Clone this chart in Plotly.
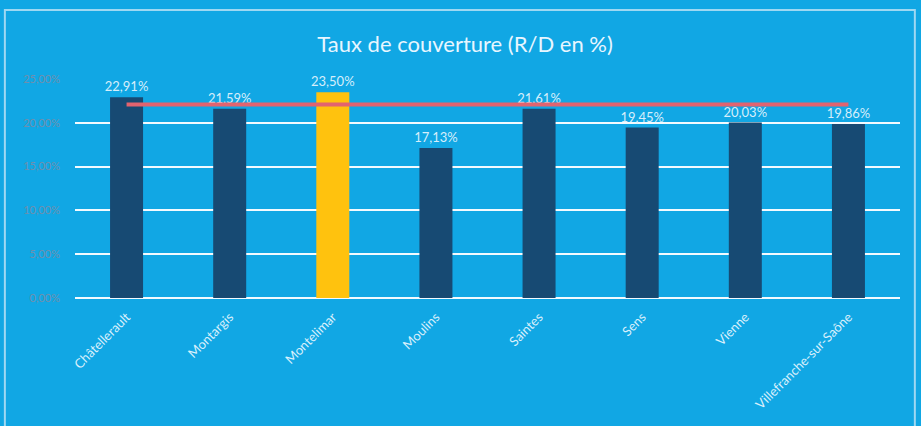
import plotly.graph_objects as go

villes = ["Châtellerault", "Montargis", "Montelimar", "Moulins", "Saintes", "Sens", "Vienne", "Villefranche-sur-Saône"]
taux = [22.91, 21.59, 23.50, 17.13, 21.61, 19.45, 20.03, 19.86]
reference = [22.1] * len(villes)
ville_mise_en_avant = "Montelimar"
y_ticks = [0, 5, 10, 15, 20, 25]
y_tick_labels = ["0,00%", "5,00%", "10,00%", "15,00%", "20,00%", "25,00%"]

bleu_fond = "#11A7E4"
bar_colors = ["#FFC20E" if v == ville_mise_en_avant else "#174A73" for v in villes]
labels = [f"{v:.2f}".replace(".", ",") + "%" for v in taux]

fig = go.Figure()
fig.add_trace(go.Bar(
    x=villes, y=taux, marker=dict(color=bar_colors, line=dict(width=0)),
    text=labels, textposition="outside", cliponaxis=False, constraintext="none",
    textfont=dict(family="Lato, Open Sans, sans-serif", size=13, color="#D6EEFB"),
    hoverinfo="skip",
))
fig.add_trace(go.Scatter(
    x=villes, y=reference, mode="lines",
    line=dict(color="#E2636F", width=4), hoverinfo="skip",
))

fig.update_layout(
    width=921, height=426,
    paper_bgcolor=bleu_fond, plot_bgcolor=bleu_fond,
    margin=dict(l=75, r=21, t=79, b=128),
    showlegend=False, bargap=0.68,
    title=dict(text="Taux de couverture (R/D en %)", x=0.505, xanchor="center", y=0.895, yanchor="middle",
               font=dict(family="Lato, Open Sans, sans-serif", size=22, color="#E8F6FF")),
    font=dict(family="Lato, Open Sans, sans-serif"),
    xaxis=dict(tickangle=-45, tickfont=dict(size=13, color="#D9F0FC"), showgrid=False,
               showline=False, ticks="", zeroline=False, automargin=False, ticklabelstandoff=8),
    yaxis=dict(range=[0, 25], tickvals=y_ticks, ticktext=y_tick_labels,
               tickfont=dict(size=11, color="#6E8FAE"), gridcolor="#F2FAFF", gridwidth=2,
               zeroline=True, zerolinecolor="#F2FAFF", zerolinewidth=2,
               showline=False, ticklabelstandoff=14, automargin=False),
    shapes=[dict(type="rect", xref="paper", yref="paper", x0=-0.085, x1=1.018, y0=-0.6, y1=1.315,
                 line=dict(color="#9ED8F2", width=2), fillcolor="rgba(0,0,0,0)", layer="below")],
)

fig.write_html("out.html", config={"displayModeBar": False},
               post_script="document.body.style.margin='0';document.body.style.overflow='hidden';")
